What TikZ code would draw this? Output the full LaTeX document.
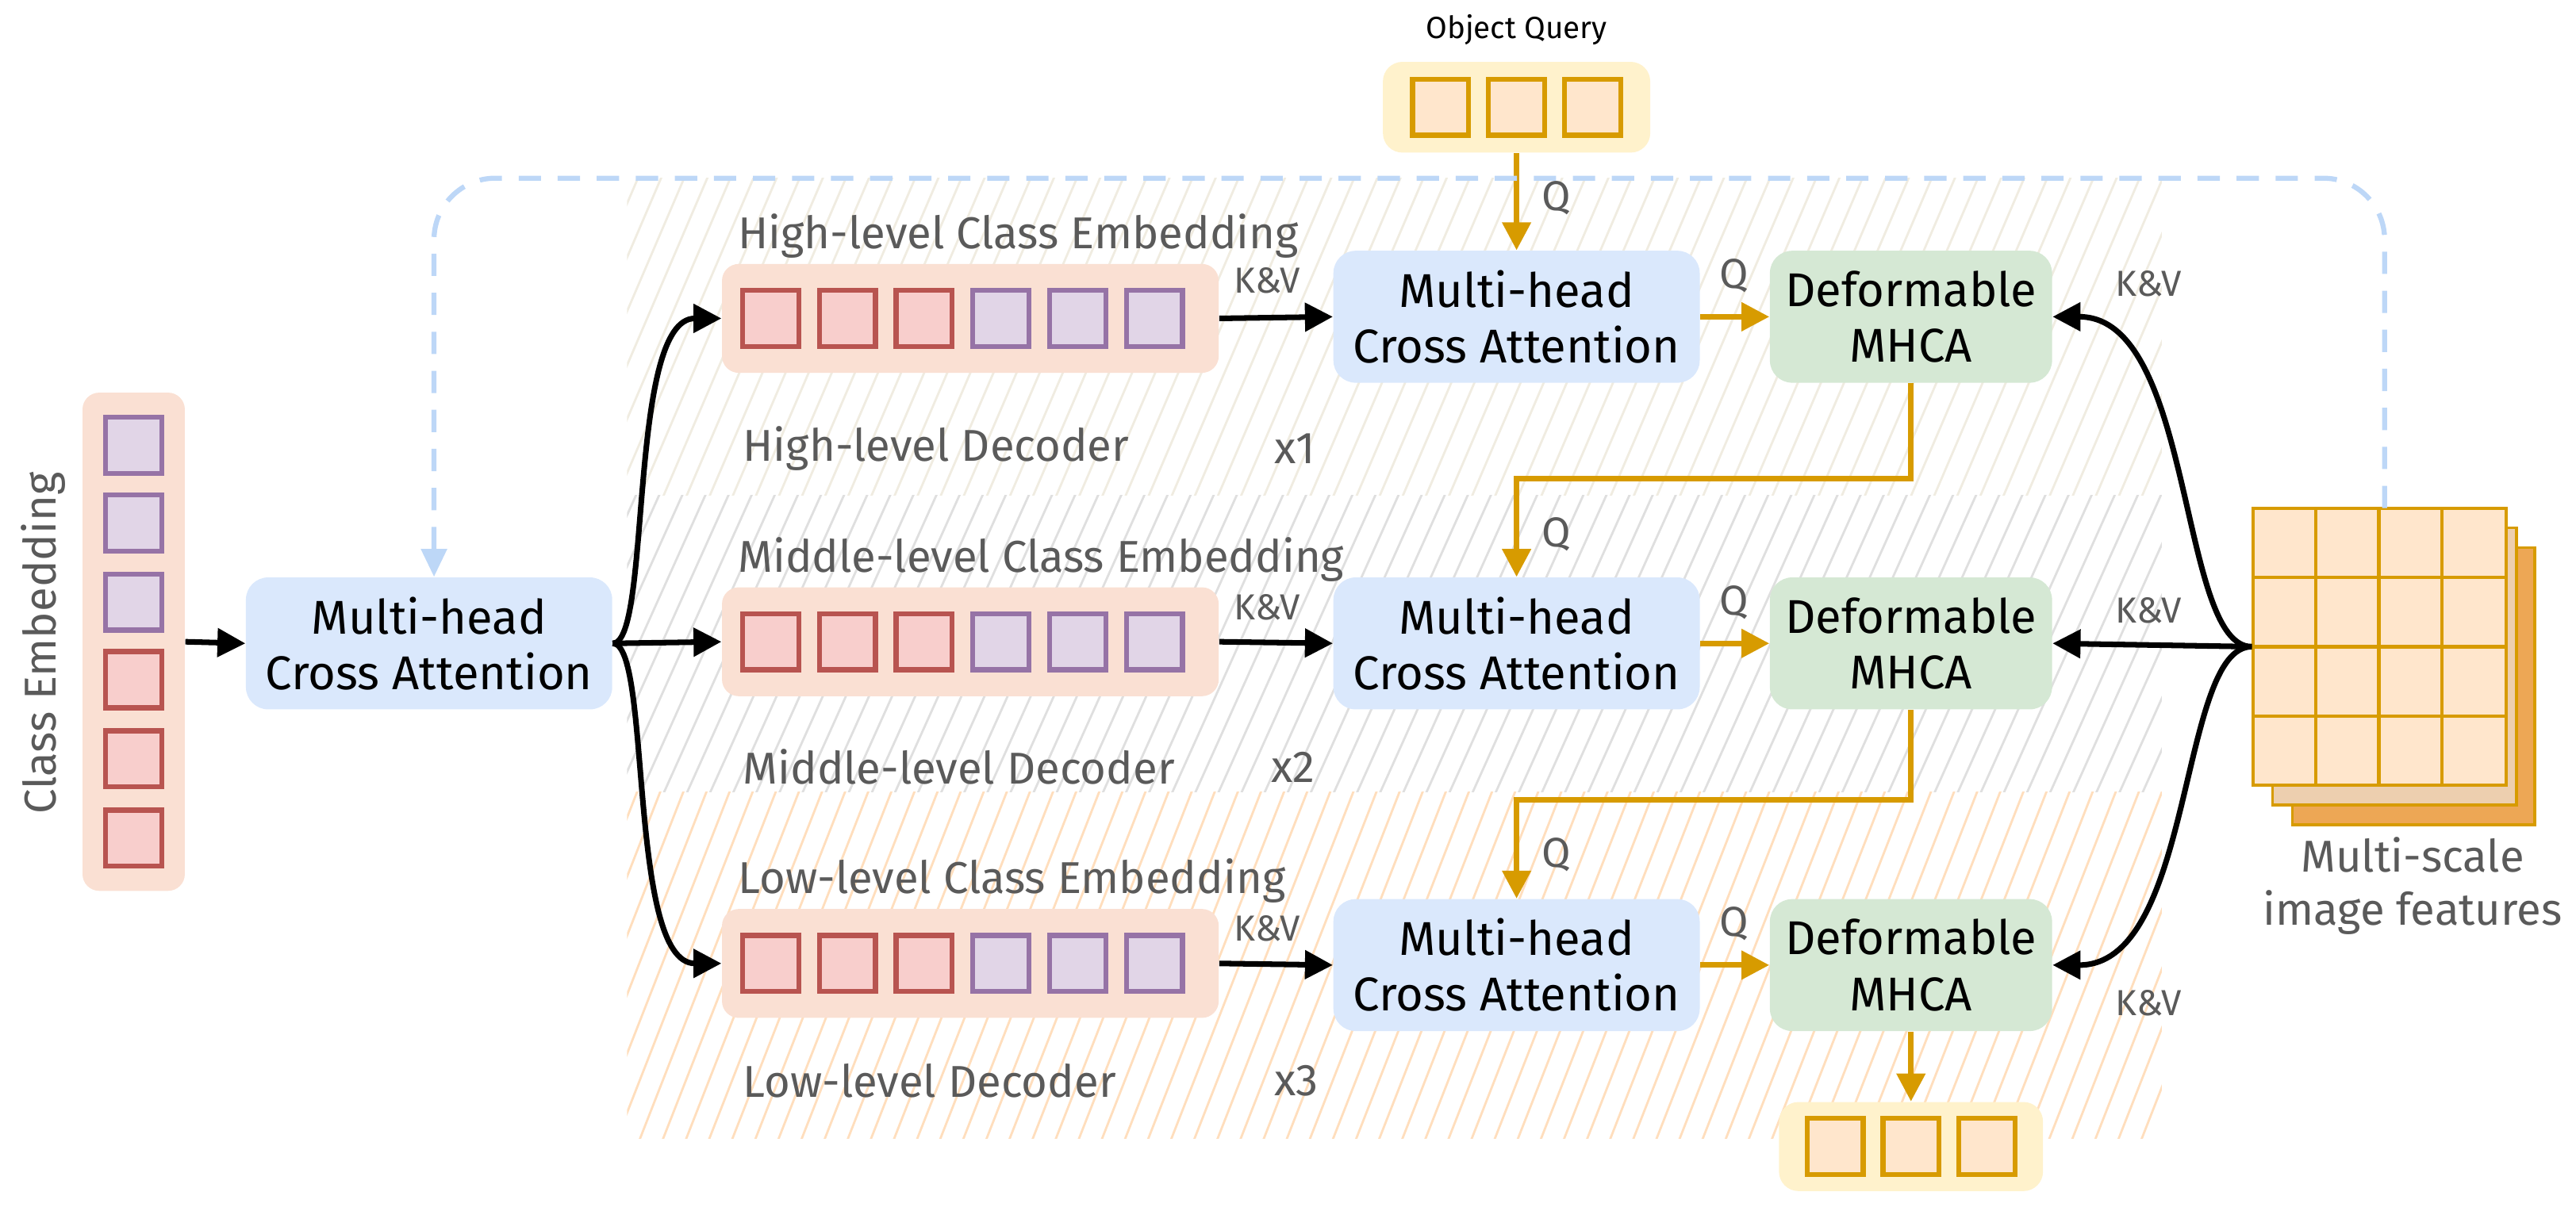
\documentclass[tikz,border=0pt]{standalone}
\usepackage{fontspec}
\setmainfont{Fira Sans}
\usetikzlibrary{arrows.meta}
\definecolor{gold}{HTML}{D79B00}
\definecolor{qfill}{HTML}{FFE6CC}
\definecolor{qbg}{HTML}{FFF2CC}
\definecolor{rfill}{HTML}{F8CECC}
\definecolor{rline}{HTML}{B85450}
\definecolor{pfill}{HTML}{E1D5E7}
\definecolor{pline}{HTML}{9673A6}
\definecolor{embbg}{HTML}{FAE0D3}
\definecolor{bluebox}{HTML}{DAE8FC}
\definecolor{greenbox}{HTML}{D5E8D4}
\definecolor{dashblue}{HTML}{BDD7F7}
\definecolor{txt}{HTML}{5A5A5A}
\definecolor{layerA}{HTML}{EDCFAF}
\definecolor{layerB}{HTML}{EDA755}
\begin{document}
\begin{tikzpicture}[x=0.0208cm,y=-0.0208cm,
  box/.style={rounded corners=8pt,minimum width=222*0.0208cm,minimum height=80*0.0208cm,align=center,font=\fontsize{17}{20}\selectfont,inner sep=0pt},
  mh/.style={box,fill=bluebox},
  df/.style={box,fill=greenbox,minimum width=171*0.0208cm},
  lab/.style={text=txt,font=\fontsize{16}{19}\selectfont,anchor=west,inner sep=0pt},
  sm/.style={text=txt,font=\fontsize{13}{15}\selectfont,inner sep=0pt},
  rsq/.style={draw=rline,fill=rfill,line width=1.8pt,minimum size=34*0.0208cm,inner sep=0pt},
  psq/.style={draw=pline,fill=pfill,line width=1.8pt,minimum size=34*0.0208cm,inner sep=0pt},
  qsq/.style={draw=gold,fill=qfill,line width=1.8pt,minimum size=34*0.0208cm,inner sep=0pt},
  bk/.style={-{Triangle[length=10pt,width=10pt]},line width=2pt,black},
  gd/.style={-{Triangle[length=10pt,width=10pt]},line width=2pt,gold},
  emb/.style={fill=embbg,rounded corners=6pt,minimum width=301*0.0208cm,minimum height=66*0.0208cm,inner sep=0pt}
]
\useasboundingbox (0,0) rectangle (1561,736.5);
% hatched backgrounds
\begin{scope}
\clip (380,108) rectangle (1310,300);
\foreach \i in {0,14,...,1100} \draw[color=qbg!70!gray!40,line width=0.8pt] (300+\i,310) -- (390+\i,100);
\end{scope}
\begin{scope}
\clip (380,300) rectangle (1310,480);
\foreach \i in {0,14,...,1100} \draw[color=gray!25,line width=0.8pt] (300+\i,490) -- (390+\i,290);
\end{scope}
\begin{scope}
\clip (380,480) rectangle (1310,690);
\foreach \i in {0,14,...,1100} \draw[color=qfill!60!orange!50,line width=0.8pt] (300+\i,700) -- (390+\i,470);
\end{scope}
% class embedding column
\node[fill=embbg,rounded corners=6pt,minimum width=62*0.0208cm,minimum height=302*0.0208cm] (ce) at (81,389) {};
\foreach \y/\s [count=\k] in {270/psq,317/psq,365/psq,412/rsq,460/rsq,508/rsq}
  \node[\s] (c\k) at (81,\y) {};
\node[sm,font=\fontsize{16}{19}\selectfont,rotate=90] (cel) at (26,390) {Class Embedding};
% left MHCA
\node[mh] (m0) at (260,390) {Multi-head\\Cross Attention};
\draw[bk] (ce.east) -- (m0.west);
% embedding rows
\foreach \r/\y/\t in {h/193/High-level Class Embedding,m/389/Middle-level Class Embedding,l/584/Low-level Class Embedding}{
  \node[emb] (e\r) at (588,\y) {};
  \foreach \x/\s [count=\k] in {0/rsq,1/rsq,2/rsq,3/psq,4/psq,5/psq}
    \node[\s] (e\r\k) at (467+\x*46.5,\y) {};
  \node[lab] (t\r) at (447,\y-50) {\t};
}
\node[lab] (dh) at (450,272) {High-level Decoder};
\node[lab] (xh) at (772,272) {x1};
\node[lab] (dm) at (450,465) {Middle-level Decoder};
\node[lab] (xm) at (770,465) {x2};
\node[lab] (dl) at (450,655) {Low-level Decoder};
\node[lab] (xl) at (772,655) {x3};
% branches
\draw[bk] (m0.east) .. controls (395,390) and (380,193) .. (eh.west);
\draw[bk] (m0.east) -- (em.west);
\draw[bk] (m0.east) .. controls (395,390) and (380,584) .. (el.west);
% MHCA and deformable
\foreach \r/\y in {h/192,m/390,l/585}{
  \node[mh] (m\r) at (919,\y) {Multi-head\\Cross Attention};
  \node[df] (g\r) at (1158,\y) {Deformable\\MHCA};
  \draw[bk] (e\r.east) -- (m\r.west);
  \node[sm] at (768,\y-22) {K\&V};
  \draw[gd] (m\r.east) -- (g\r.west);
  \node[sm,font=\fontsize{15}{17}\selectfont] at (1051,\y-25) {Q};
}
% object query
\node[fill=qbg,rounded corners=7pt,minimum width=162*0.0208cm,minimum height=55*0.0208cm] (oq) at (919,65) {};
\foreach \x [count=\k] in {-46,0,46} \node[qsq] (oq\k) at (919+\x,65) {};
\node[font=\fontsize{11}{13}\selectfont,inner sep=0pt] (oql) at (919,18) {Object Query};
\draw[gd] (oq.south) -- (mh.north);
\node[sm,font=\fontsize{15}{17}\selectfont] at (943,120) {Q};
\draw[gd] (gh.south) -- (gh.south |- 0,290) -- (919,290) -- (mm.north);
\node[sm,font=\fontsize{15}{17}\selectfont] at (943,324) {Q};
\draw[gd] (gm.south) -- (gm.south |- 0,485) -- (919,485) -- (ml.north);
\node[sm,font=\fontsize{15}{17}\selectfont] at (943,518) {Q};
% output
\node[fill=qbg,rounded corners=7pt,minimum width=160*0.0208cm,minimum height=54*0.0208cm] (out) at (1158,695) {};
\foreach \x [count=\k] in {-46,0,46} \node[qsq] (out\k) at (1158+\x,695) {};
\draw[gd] (gl.south) -- (out.north);
% image features
\fill[layerB,draw=gold,line width=1pt] (1389,332) rectangle (1536,500);
\fill[layerA,draw=gold,line width=1pt] (1377,320) rectangle (1525,488);
\node[draw=gold,fill=qfill,line width=1.2pt,minimum width=153*0.0208cm,minimum height=168*0.0208cm,inner sep=0pt] (img) at (1442,392) {};
\foreach \i in {1,2,3}{
  \draw[gold,line width=1.2pt] (1365+\i*38.25,308) -- (1365+\i*38.25,476);
  \draw[gold,line width=1.2pt] (1365,308+\i*42) -- (1518.5,308+\i*42);
}
\node[text=txt,font=\fontsize{16}{19}\selectfont,align=center,inner sep=0pt] (imgl) at (1462,537) {Multi-scale\\image features};
% right arrows
\draw[bk] (img.west) .. controls (1320,392) and (1330,192) .. (gh.east);
\draw[bk] (img.west) -- (gm.east);
\draw[bk] (img.west) .. controls (1320,392) and (1330,585) .. (gl.east);
\node[sm] at (1302,172) {K\&V};
\node[sm] at (1302,370) {K\&V};
\node[sm] at (1302,608) {K\&V};
% dashed feedback
\coordinate (fb) at (1445,308);
\draw[dashblue,line width=1.8pt,dash pattern=on 8pt off 6pt,-{Triangle[length=10pt,width=9pt]},rounded corners=22pt] (fb) -- (1445,108) -- (263,108) -- (m0.north -| 263,0);
\end{tikzpicture}
\end{document}
